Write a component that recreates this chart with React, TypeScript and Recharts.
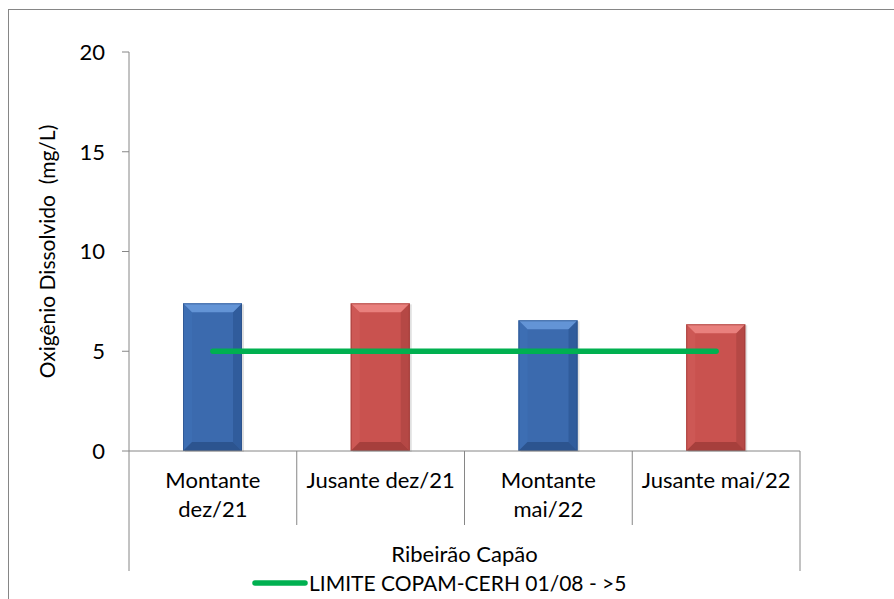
import { ComposedChart, Bar, Line, XAxis, YAxis, Legend } from 'recharts';

// data
const categories = ['Montante dez/21', 'Jusante dez/21', 'Montante mai/22', 'Jusante mai/22'];
const categoryLines = [['Montante', 'dez/21'], ['Jusante dez/21'], ['Montante', 'mai/22'], ['Jusante mai/22']];
const oxygen = [7.4, 7.4, 6.55, 6.35];
const limit = [5, 5, 5, 5];
const yTicks = [0, 5, 10, 15, 20];

const groupLabel = 'Ribeirão Capão';
const limitLabel = 'LIMITE COPAM-CERH 01/08 - >5';
const yLabel = 'Oxigênio Dissolvido  (mg/L)';

const data = categories.map((name, i) => ({ name, od: oxygen[i], limit: limit[i] }));

// layout
const W = 894;
const H = 599;
const PLOT_LEFT = 129;
const PLOT_RIGHT = 800;
const PLOT_TOP = 52;
const PLOT_BOTTOM = 451;
const Y_AXIS_W = 60;
const X_AXIS_H = 120;
const BAND = (PLOT_RIGHT - PLOT_LEFT) / categories.length;

const FONT = 'Lato, "Open Sans", sans-serif';
const FS = 22;
const AXIS = '#868686';
const GREEN = '#00b050';

const PALETTE = [
  { base: '#3b6aae', light: '#6394d6', left: '#3d6eb3', right: '#305c9c', bottom: '#2c548f', edge: '#2a4d84' },
  { base: '#c9524f', light: '#e9807d', left: '#cd5855', right: '#b54845', bottom: '#a63f3c', edge: '#963734' },
];

function BevelBar(props: any) {
  const { x, y, width: w, height: h, index } = props;
  if (!h || h <= 0) return null;
  const c = PALETTE[index % 2];
  const b = Math.min(9, w / 4, h / 4);
  return (
    <g>
      <rect x={x + 2} y={y + 1} width={w} height={h} fill="rgba(0,0,0,0.12)" />
      <rect x={x} y={y} width={w} height={h} fill={c.base} />
      <polygon points={`${x},${y} ${x + b},${y + b} ${x + b},${y + h - b} ${x},${y + h}`} fill={c.left} />
      <polygon points={`${x + w},${y} ${x + w},${y + h} ${x + w - b},${y + h - b} ${x + w - b},${y + b}`} fill={c.right} />
      <polygon points={`${x},${y + h} ${x + b},${y + h - b} ${x + w - b},${y + h - b} ${x + w},${y + h}`} fill={c.bottom} />
      <polygon points={`${x},${y} ${x + w},${y} ${x + w - b},${y + b} ${x + b},${y + b}`} fill={c.light} />
      <rect x={x + 0.5} y={y + 0.5} width={w - 1} height={h - 1} fill="none" stroke={c.edge} strokeOpacity={0.6} />
    </g>
  );
}

function CategoryTick(props: any) {
  const { x, y, index } = props;
  const lines = categoryLines[index] || [];
  const left = x - BAND / 2;
  const last = index === categories.length - 1;
  return (
    <g>
      <line x1={left} y1={y} x2={left} y2={y + (index === 0 ? X_AXIS_H : 74)} stroke={AXIS} />
      {last && <line x1={x + BAND / 2} y1={y} x2={x + BAND / 2} y2={y + X_AXIS_H} stroke={AXIS} />}
      <text textAnchor="middle" fontFamily={FONT} fontSize={FS} fill="#000">
        {lines.map((l, i) => (
          <tspan key={i} x={x} y={y + 37 + i * 29}>
            {l}
          </tspan>
        ))}
      </text>
    </g>
  );
}

function YLabel() {
  const cx = 55;
  const cy = (PLOT_TOP + PLOT_BOTTOM) / 2;
  return (
    <text
      x={cx}
      y={cy}
      transform={`rotate(-90 ${cx} ${cy})`}
      textAnchor="middle"
      fontFamily={FONT}
      fontSize={FS - 1}
      fill="#000"
      style={{ whiteSpace: 'pre' }}
    >
      {yLabel}
    </text>
  );
}

function LimitLegend() {
  return (
    <div style={{ display: 'flex', alignItems: 'center', fontFamily: FONT, fontSize: FS - 1, color: '#000', whiteSpace: 'nowrap' }}>
      <svg width={58} height={10}>
        <line x1={4} y1={5} x2={54} y2={5} stroke={GREEN} strokeWidth={5.5} strokeLinecap="round" />
      </svg>
      <span>{limitLabel}</span>
    </div>
  );
}

export default function App() {
  return (
    <div style={{ position: 'absolute', left: 0, top: 0, width: W, height: H, background: '#fff', overflow: 'hidden' }}>
      <div style={{ position: 'absolute', left: 8, top: 9, width: W, height: H, borderLeft: `1px solid ${AXIS}`, borderTop: `1px solid ${AXIS}` }} />
      <div style={{ position: 'absolute', left: 0, top: 0 }}>
        <ComposedChart
          width={W}
          height={H}
          data={data}
          margin={{ top: PLOT_TOP, right: W - PLOT_RIGHT, left: PLOT_LEFT - Y_AXIS_W, bottom: H - PLOT_BOTTOM - X_AXIS_H }}
        >
          <XAxis
            dataKey="name"
            height={X_AXIS_H}
            stroke={AXIS}
            tickLine={false}
            tickSize={0}
            tickMargin={0}
            interval={0}
            tick={<CategoryTick />}
            label={{ value: groupLabel, position: 'insideBottom', offset: 9, fill: '#000', fontSize: FS, fontFamily: FONT }}
          />
          <YAxis
            width={Y_AXIS_W}
            domain={[0, 20]}
            ticks={yTicks}
            stroke={AXIS}
            tickSize={7}
            tickMargin={17}
            tick={{ fill: '#000', fontSize: FS, fontFamily: FONT }}
            label={<YLabel />}
          />
          <Legend
            layout="horizontal"
            verticalAlign="middle"
            align="center"
            content={<LimitLegend />}
            wrapperStyle={{ left: 251, top: 570, width: 'auto' }}
          />
          <Bar dataKey="od" barSize={59} shape={<BevelBar />} isAnimationActive={false} legendType="none" />
          <Line
            dataKey="limit"
            stroke={GREEN}
            strokeWidth={5.5}
            strokeLinecap="round"
            dot={false}
            activeDot={false}
            isAnimationActive={false}
          />
        </ComposedChart>
      </div>
    </div>
  );
}
